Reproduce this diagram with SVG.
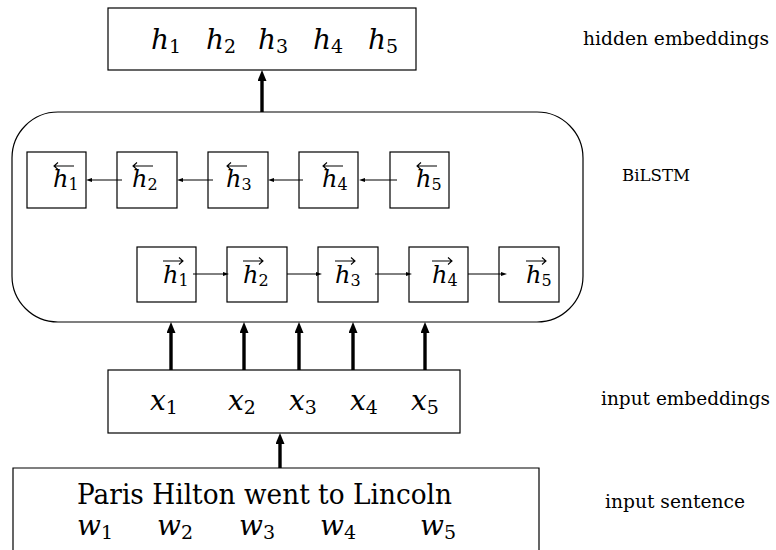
<svg xmlns="http://www.w3.org/2000/svg" width="776" height="550" viewBox="0 0 776 550">
<defs>
<marker id="thick" markerUnits="userSpaceOnUse" markerWidth="11" markerHeight="9" refX="0" refY="4.5" orient="auto"><path d="M0,0 L11,4.5 L0,9 z" fill="#000"/></marker>
<marker id="thin" markerUnits="userSpaceOnUse" markerWidth="6" markerHeight="4" refX="0" refY="2" orient="auto"><path d="M0,0 L6,2 L0,4 z" fill="#000"/></marker>
</defs>
<style>
.box{fill:#fff;stroke:#000;stroke-width:1.2}
text{font-family:'DejaVu Serif','Liberation Serif','Noto Serif','FreeSerif','Times New Roman',Times,serif;fill:#000}
.m{font-style:italic;font-size:28px}
.mb{font-style:italic;font-size:24px}
.sub{font-style:normal;font-size:19px}
.subs{font-style:normal;font-size:16px}
.side{font-size:18.5px}
.acc{fill:none;stroke:#000;stroke-width:1.1}
.thickc{stroke:#000;stroke-width:3.4;fill:none}
.thinc{stroke:#000;stroke-width:1;fill:none}
</style>

<g id="hidden">
<rect class="box" x="108" y="8" width="308" height="62"/>
<text class="m" x="151" y="49">h<tspan class="sub" dy="4">1</tspan></text>
<text class="m" x="206" y="49">h<tspan class="sub" dy="4">2</tspan></text>
<text class="m" x="258" y="49">h<tspan class="sub" dy="4">3</tspan></text>
<text class="m" x="313" y="49">h<tspan class="sub" dy="4">4</tspan></text>
<text class="m" x="368" y="49">h<tspan class="sub" dy="4">5</tspan></text>
</g>

<g id="bilstm">
<rect class="box" x="12" y="112" width="571" height="210" rx="46" ry="46"/>
</g>

<g id="bw1"><rect class="box" x="27" y="152" width="59" height="56"/><text class="mb" x="53" y="187">h<tspan class="subs" dy="3">1</tspan></text><path class="acc" d="M54,166 H74 M58,162.5 L54,166 L58,169.5"/></g>
<g id="bw2"><rect class="box" x="117" y="152" width="60" height="56"/><text class="mb" x="132" y="187">h<tspan class="subs" dy="3">2</tspan></text><path class="acc" d="M133,166 H153 M137,162.5 L133,166 L137,169.5"/></g>
<g id="bw3"><rect class="box" x="208" y="152" width="60" height="56"/><text class="mb" x="226" y="187">h<tspan class="subs" dy="3">3</tspan></text><path class="acc" d="M227,166 H247 M231,162.5 L227,166 L231,169.5"/></g>
<g id="bw4"><rect class="box" x="299" y="152" width="59" height="56"/><text class="mb" x="322" y="187">h<tspan class="subs" dy="3">4</tspan></text><path class="acc" d="M323,166 H343 M327,162.5 L323,166 L327,169.5"/></g>
<g id="bw5"><rect class="box" x="390" y="152" width="59" height="56"/><text class="mb" x="416" y="187">h<tspan class="subs" dy="3">5</tspan></text><path class="acc" d="M417,166 H437 M421,162.5 L417,166 L421,169.5"/></g>

<g id="fw1"><rect class="box" x="137" y="247" width="59" height="55"/><text class="mb" x="163" y="283">h<tspan class="subs" dy="3">1</tspan></text><path class="acc" d="M163,261 H183 M179,257.5 L183,261 L179,264.5"/></g>
<g id="fw2"><rect class="box" x="227" y="247" width="60" height="55"/><text class="mb" x="243" y="283">h<tspan class="subs" dy="3">2</tspan></text><path class="acc" d="M243,261 H263 M259,257.5 L263,261 L259,264.5"/></g>
<g id="fw3"><rect class="box" x="318" y="247" width="60" height="55"/><text class="mb" x="335" y="283">h<tspan class="subs" dy="3">3</tspan></text><path class="acc" d="M335,261 H355 M351,257.5 L355,261 L351,264.5"/></g>
<g id="fw4"><rect class="box" x="409" y="247" width="59" height="55"/><text class="mb" x="432" y="283">h<tspan class="subs" dy="3">4</tspan></text><path class="acc" d="M432,261 H452 M448,257.5 L452,261 L448,264.5"/></g>
<g id="fw5"><rect class="box" x="499" y="247" width="60" height="55"/><text class="mb" x="526" y="283">h<tspan class="subs" dy="3">5</tspan></text><path class="acc" d="M526,261 H546 M542,257.5 L546,261 L542,264.5"/></g>

<g id="input-emb">
<rect class="box" x="108" y="370" width="352" height="63"/>
<text class="m" x="150" y="410">x<tspan class="sub" dy="4">1</tspan></text>
<text class="m" x="228" y="410">x<tspan class="sub" dy="4">2</tspan></text>
<text class="m" x="289" y="410">x<tspan class="sub" dy="4">3</tspan></text>
<text class="m" x="350" y="410">x<tspan class="sub" dy="4">4</tspan></text>
<text class="m" x="411" y="410">x<tspan class="sub" dy="4">5</tspan></text>
</g>

<g id="sentence">
<path class="box" d="M13,560 V468 H539 V560"/>
<text x="77" y="504" font-size="27" textLength="375" lengthAdjust="spacingAndGlyphs">Paris Hilton went to Lincoln</text>
<text class="m" x="77" y="535">w<tspan class="sub" dy="4">1</tspan></text>
<text class="m" x="157" y="535">w<tspan class="sub" dy="4">2</tspan></text>
<text class="m" x="239" y="535">w<tspan class="sub" dy="4">3</tspan></text>
<text class="m" x="320" y="535">w<tspan class="sub" dy="4">4</tspan></text>
<text class="m" x="420" y="535">w<tspan class="sub" dy="4">5</tspan></text>
</g>

<g id="labels">
<text class="side" x="583" y="45" textLength="186" lengthAdjust="spacingAndGlyphs">hidden embeddings</text>
<text x="622" y="181" font-size="16" textLength="68" lengthAdjust="spacingAndGlyphs">BiLSTM</text>
<text class="side" x="601" y="405" textLength="169" lengthAdjust="spacingAndGlyphs">input embeddings</text>
<text class="side" x="605" y="508" textLength="140" lengthAdjust="spacingAndGlyphs">input sentence</text>
</g>

<g id="connectors">
<path class="thickc" d="M262,112 V81" marker-end="url(#thick)"/>
<path class="thickc" d="M171,370 V333" marker-end="url(#thick)"/>
<path class="thickc" d="M244,370 V333" marker-end="url(#thick)"/>
<path class="thickc" d="M299,370 V333" marker-end="url(#thick)"/>
<path class="thickc" d="M353,370 V333" marker-end="url(#thick)"/>
<path class="thickc" d="M425,370 V333" marker-end="url(#thick)"/>
<path class="thickc" d="M280,468 V444" marker-end="url(#thick)"/>
<path class="thinc" d="M122,180 H92" marker-end="url(#thin)"/>
<path class="thinc" d="M213,180 H183" marker-end="url(#thin)"/>
<path class="thinc" d="M303,180 H274" marker-end="url(#thin)"/>
<path class="thinc" d="M397,180 H365" marker-end="url(#thin)"/>
<path class="thinc" d="M193,274 H223" marker-end="url(#thin)"/>
<path class="thinc" d="M287,274 H316" marker-end="url(#thin)"/>
<path class="thinc" d="M375,274 H406" marker-end="url(#thin)"/>
<path class="thinc" d="M468,274 H501" marker-end="url(#thin)"/>
</g>
</svg>
